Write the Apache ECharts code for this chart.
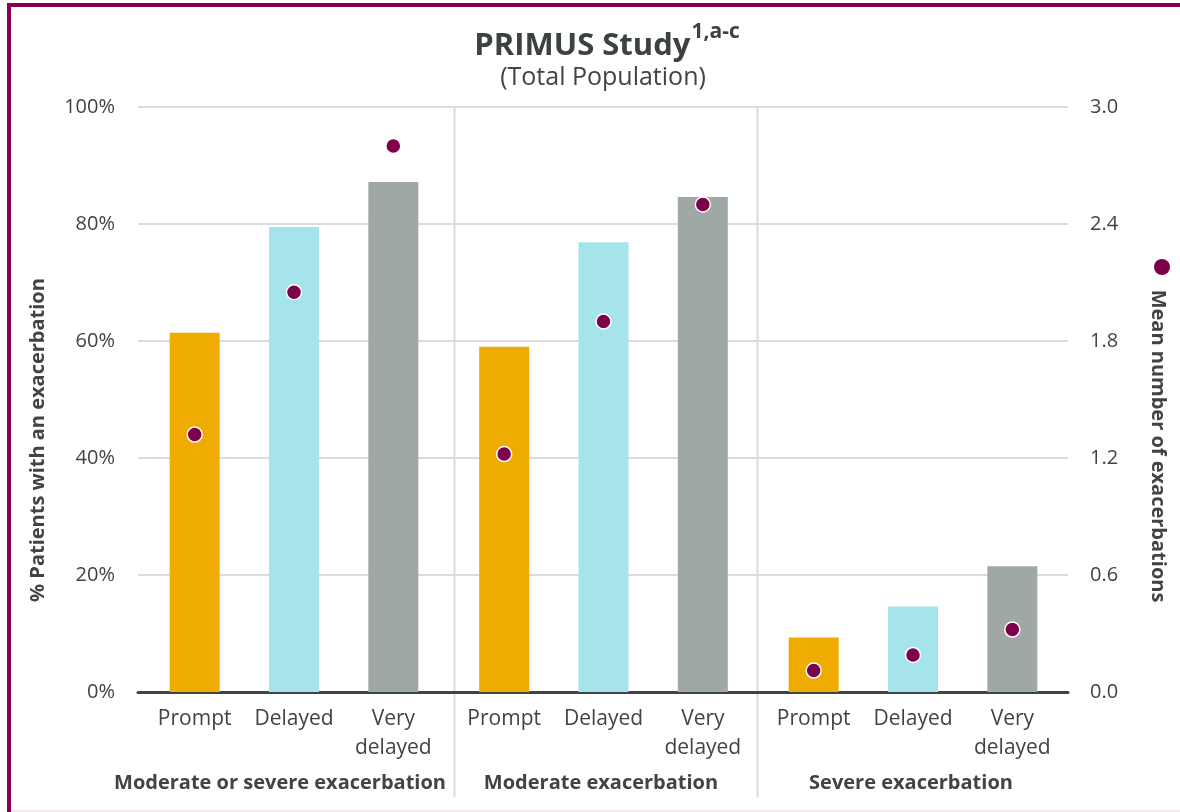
<!DOCTYPE html>
<html>
<head>
<meta charset="utf-8">
<script src="https://cdn.jsdelivr.net/npm/echarts@6/dist/echarts.min.js"></script>
<style>
  html, body { margin: 0; padding: 0; background: #fff; }
  #wrap { position: relative; width: 1180px; height: 812px; overflow: hidden; }
  #chart { position: absolute; left: 0; top: 0; width: 1180px; height: 812px; }
  .frame-top { position: absolute; left: 7px; top: 3px; width: 1173px; height: 4px; background: #860052; }
  .frame-left { position: absolute; left: 7px; top: 3px; width: 4px; height: 809px; background: #860052; }
  .frame-bottom { position: absolute; left: 11px; top: 810px; width: 1169px; height: 2px; background: #efe8ec; }
</style>
</head>
<body>
<div id="wrap">
  <div id="chart"></div>
  <div class="frame-top"></div>
  <div class="frame-left"></div>
  <div class="frame-bottom"></div>
</div>
<script>
// Exacerbation outcomes by timing of treatment, three exacerbation groups
const groupNames = ['Moderate or severe exacerbation', 'Moderate exacerbation', 'Severe exacerbation'];
const timingLabels = ['Prompt', 'Delayed', 'Very\ndelayed'];
const timingColors = ['#F0AB00', '#A6E4EC', '#A0A8A6'];

// % of patients with an exacerbation (left axis)
const pctModerateOrSevere = [61.4, 79.5, 87.2];
const pctModerate = [59.0, 76.9, 84.6];
const pctSevere = [9.3, 14.6, 21.5];

// Mean number of exacerbations (right axis)
const meanModerateOrSevere = [1.32, 2.05, 2.80];
const meanModerate = [1.22, 1.90, 2.50];
const meanSevere = [0.11, 0.19, 0.32];

// Axis tick settings
const pctMax = 100, pctStep = 20;
const meanMax = 3.0, meanStep = 0.6;

const pctByGroup = [pctModerateOrSevere, pctModerate, pctSevere];
const meanByGroup = [meanModerateOrSevere, meanModerate, meanSevere];

const FONT = '"Open Sans", "Noto Sans", sans-serif';
const TEXT = '#404444';
const DOT = '#7D004B';
const meanName = 'Mean number of exacerbations';

// Grid 0 carries the shared axes; grids 1-3 hold one group each
const groupLeft = [145, 454.5, 764];
const groupWidth = 298;
const plotTop = 107, plotHeight = 585;

const grids = [{ left: 138, width: 930, top: plotTop, height: plotHeight }];
groupLeft.forEach(l => grids.push({ left: l, width: groupWidth, top: plotTop, height: plotHeight }));

const xAxes = [{
  gridIndex: 0, type: 'category', data: [''],
  axisLine: { show: true, lineStyle: { color: '#3F4444', width: 3 } },
  axisTick: { show: false }, axisLabel: { show: false }, splitLine: { show: false }
}];
const yAxes = [
  {
    gridIndex: 0, type: 'value', position: 'left', min: 0, max: pctMax, interval: pctStep,
    axisLine: { show: false }, axisTick: { show: false },
    axisLabel: { formatter: '{value}%', fontFamily: FONT, fontSize: 20, color: TEXT, margin: 23 },
    splitLine: { show: true, lineStyle: { color: '#D9DCDB', width: 2 } }
  },
  {
    gridIndex: 0, type: 'value', position: 'right', min: 0, max: meanMax, interval: meanStep,
    axisLine: { show: false }, axisTick: { show: false },
    axisLabel: { formatter: v => v.toFixed(1), fontFamily: FONT, fontSize: 20, color: TEXT, margin: 22 },
    splitLine: { show: false }
  }
];
const series = [];

groupNames.forEach((g, i) => {
  const gi = i + 1;
  xAxes.push({
    gridIndex: gi, type: 'category', data: timingLabels,
    axisLine: { show: false }, axisTick: { show: false },
    axisLabel: { fontFamily: FONT, fontSize: 21, lineHeight: 29, color: TEXT, margin: 13, interval: 0 }
  });
  const yPct = yAxes.length;
  yAxes.push({ gridIndex: gi, type: 'value', min: 0, max: pctMax, interval: pctStep, show: false, splitLine: { show: false } });
  const yMean = yAxes.length;
  yAxes.push({ gridIndex: gi, type: 'value', min: 0, max: meanMax, interval: meanStep, show: false, splitLine: { show: false } });

  series.push({
    type: 'bar', name: g, xAxisIndex: gi, yAxisIndex: yPct,
    barWidth: 50,
    data: pctByGroup[i].map((v, k) => ({ value: v, itemStyle: { color: timingColors[k] } })),
    silent: true, z: 2
  });
  series.push({
    type: 'scatter', name: meanName, xAxisIndex: gi, yAxisIndex: yMean,
    symbol: 'circle', symbolSize: 15,
    itemStyle: { color: DOT, borderColor: '#ffffff', borderWidth: 1.5, opacity: 1 },
    data: meanByGroup[i], silent: true, z: 5
  });
});

const graphics = [
  // title
  {
    type: 'text', x: 607, y: 42,
    style: {
      text: '{a|PRIMUS Study}{b|1,a-c}',
      align: 'center', verticalAlign: 'middle',
      rich: {
        a: { fontFamily: FONT, fontSize: 31, fontWeight: 'bold', fill: '#3C4141', lineHeight: 40, verticalAlign: 'bottom' },
        b: { fontFamily: FONT, fontSize: 21, fontWeight: 'bold', fill: '#3C4141', lineHeight: 40, verticalAlign: 'top', padding: [0, 0, 14, 1] }
      }
    }
  },
  {
    type: 'text', x: 603, y: 78,
    style: { text: '(Total Population)', fontFamily: FONT, fontSize: 25, fill: TEXT, align: 'center', verticalAlign: 'middle' }
  },
  // axis titles
  {
    type: 'text', x: 38, y: 440, rotation: Math.PI / 2,
    style: { text: '% Patients with an exacerbation', fontFamily: FONT, fontSize: 20, fontWeight: 'bold', fill: TEXT, align: 'center', verticalAlign: 'middle' }
  },
  {
    type: 'text', x: 1158, y: 446, rotation: -Math.PI / 2,
    style: { text: meanName, fontFamily: FONT, fontSize: 20, fontWeight: 'bold', fill: TEXT, align: 'center', verticalAlign: 'middle' }
  },
  // group dividers
  { type: 'line', shape: { x1: 454.5, y1: 107, x2: 454.5, y2: 797 }, style: { stroke: '#D9DCDB', lineWidth: 2 }, z: 0 },
  { type: 'line', shape: { x1: 757.5, y1: 107, x2: 757.5, y2: 797 }, style: { stroke: '#D9DCDB', lineWidth: 2 }, z: 0 }
];

// group labels under the timing labels
const groupLabelX = [280, 601, 911];
groupNames.forEach((g, i) => {
  graphics.push({
    type: 'text', x: groupLabelX[i], y: 783,
    style: { text: g, fontFamily: FONT, fontSize: 20, fontWeight: 'bold', fill: TEXT, align: 'center', verticalAlign: 'middle' }
  });
});

const chart = echarts.init(document.getElementById('chart'), null, { renderer: 'canvas' });
chart.setOption({
  animation: false,
  backgroundColor: '#ffffff',
  grid: grids,
  xAxis: xAxes,
  yAxis: yAxes,
  legend: {
    data: [meanName], left: 1149, top: 254, orient: 'vertical',
    icon: 'circle', itemWidth: 16, itemHeight: 16, itemGap: 0,
    formatter: () => '', selectedMode: false,
    itemStyle: { color: DOT, borderWidth: 0 }
  },
  tooltip: { show: false },
  graphic: graphics,
  series: series
});
</script>
</body>
</html>
